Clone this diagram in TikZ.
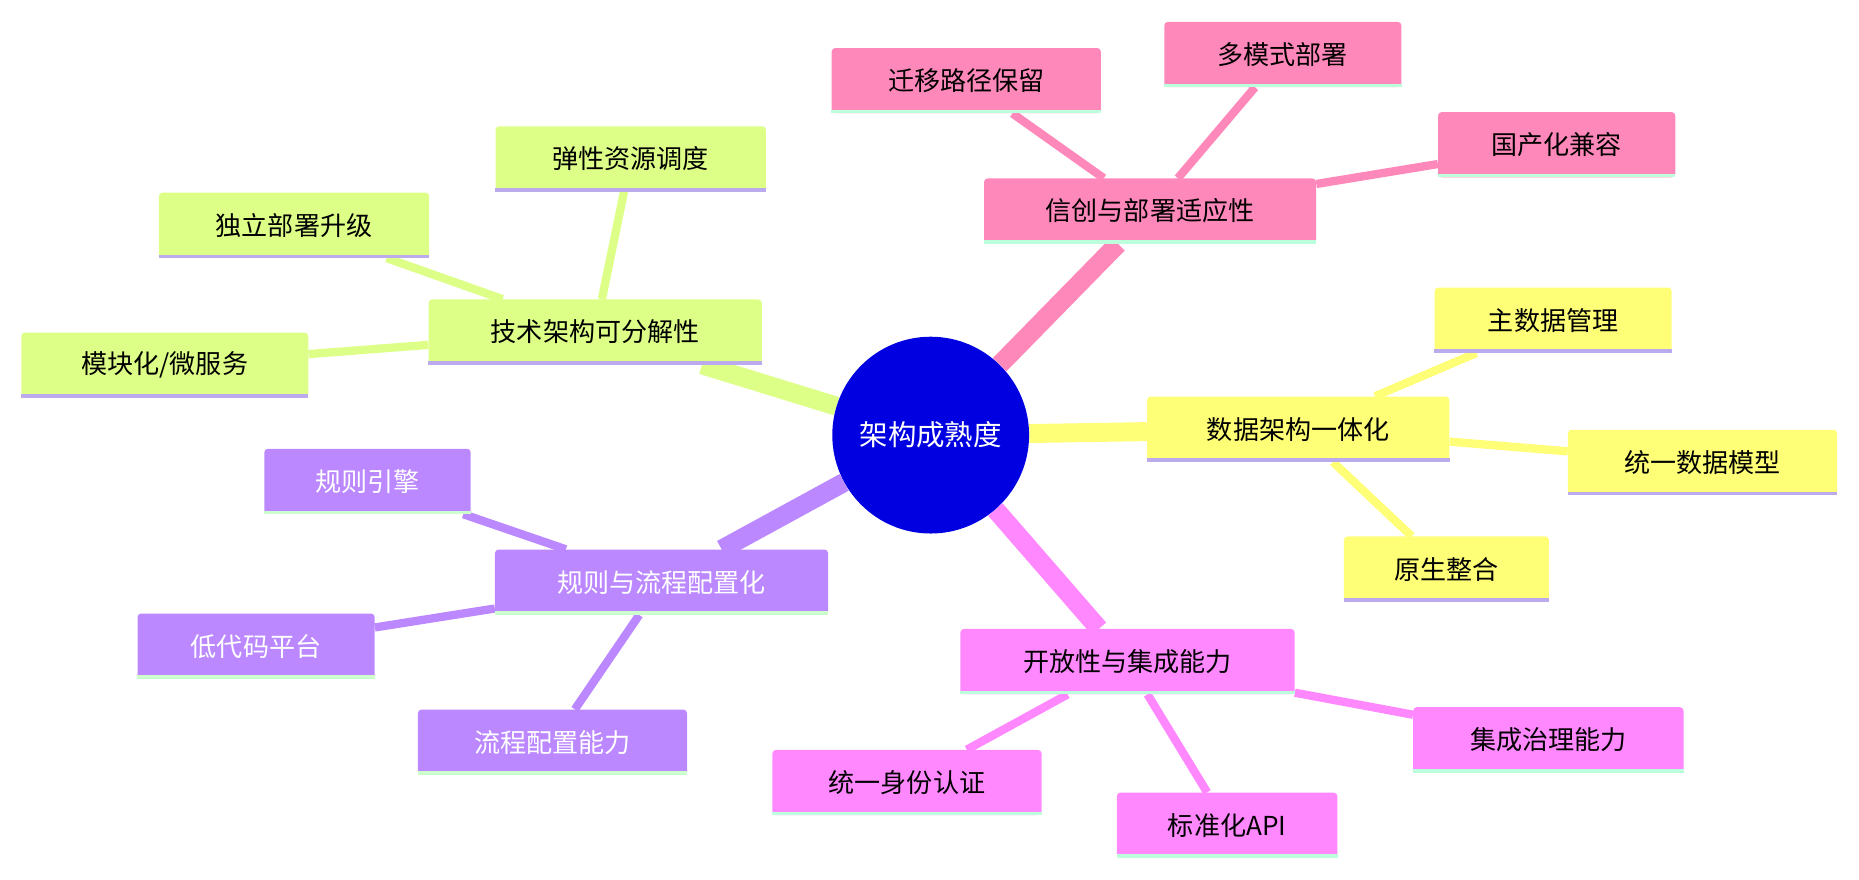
\documentclass[tikz,border=0pt]{standalone}
\usepackage{fontspec}
\newfontfamily\cjk{Noto Sans CJK SC}
\usetikzlibrary{backgrounds}
\definecolor{pk}{HTML}{FF88BB}
\definecolor{yl}{HTML}{FFFF77}
\definecolor{mg}{HTML}{FF88FF}
\definecolor{pu}{HTML}{BB88FF}
\definecolor{gr}{HTML}{DDFF88}
\definecolor{mint}{HTML}{BBFFDD}
\definecolor{lav}{HTML}{BBAAEE}
\definecolor{lgr}{HTML}{CCFFCC}
\definecolor{cb}{HTML}{0000E0}
\tikzset{
 bx/.style={rounded corners=3pt, minimum height=55pt, inner xsep=10pt, font=\cjk\fontsize{22}{26}\selectfont, text=black},
 main/.style={bx, minimum height=55pt},
 ln/.style={line width=16pt},
 cl/.style={line width=7pt},
}
\newcommand\stripe[2]{\draw[#2, line width=3pt] ([yshift=1.5pt]#1.south west) -- ([yshift=1.5pt]#1.south east);}
\begin{document}
\begin{tikzpicture}[x=1pt,y=-1pt]
\useasboundingbox (0,0) rectangle (1568,742);
\node[circle, fill=cb, minimum size=166pt, text=white, font=\cjk\fontsize{24}{28}\selectfont] (c) at (785,367) {架构成熟度};
% pink
\node[bx, fill=pk, minimum width=280pt] (p) at (970,178) {信创与部署适应性};
\node[bx, fill=pk, minimum width=227pt] (p1) at (815,68) {迁移路径保留};
\node[bx, fill=pk, minimum width=200pt] (p2) at (1082,46) {多模式部署};
\node[bx, fill=pk, minimum width=200pt] (p3) at (1313,122) {国产化兼容};
% yellow
\node[bx, fill=yl, minimum width=255pt] (y) at (1095,362) {数据架构一体化};
\node[bx, fill=yl, minimum width=200pt] (y1) at (1310,270) {主数据管理};
\node[bx, fill=yl, minimum width=227pt] (y2) at (1436,390) {统一数据模型};
\node[bx, fill=yl, minimum width=173pt] (y3) at (1220,480) {原生整合};
% magenta
\node[bx, fill=mg, minimum width=282pt] (m) at (951,558) {开放性与集成能力};
\node[bx, fill=mg, minimum width=227pt] (m1) at (765,660) {统一身份认证};
\node[bx, fill=mg, minimum width=186pt] (m2) at (1035,696) {标准化API};
\node[bx, fill=mg, minimum width=228pt] (m3) at (1306,624) {集成治理能力};
% purple
\node[bx, fill=pu, text=white, minimum width=281pt] (u) at (558,491) {规则与流程配置化};
\node[bx, fill=pu, text=white, minimum width=174pt] (u1) at (310,406) {规则引擎};
\node[bx, fill=pu, text=white, minimum width=200pt] (u2) at (216,545) {低代码平台};
\node[bx, fill=pu, text=white, minimum width=227pt] (u3) at (466,626) {流程配置能力};
% green
\node[bx, fill=gr, minimum width=281pt] (g) at (502,280) {技术架构可分解性};
\node[bx, fill=gr, minimum width=228pt] (g1) at (532,134) {弹性资源调度};
\node[bx, fill=gr, minimum width=228pt] (g2) at (248,190) {独立部署升级};
\node[bx, fill=gr, minimum width=242pt] (g3) at (139,308) {模块化/微服务};
\foreach \n in {p,p1,p2,p3,m,m1,m2,m3}{\stripe{\n}{mint}}
\foreach \n in {y,y1,y2,y3,g,g1,g2,g3}{\stripe{\n}{lav}}
\foreach \n in {u,u1,u2,u3}{\stripe{\n}{lgr}}
\begin{scope}[on background layer]
\draw[ln,pk] (c) -- (p); \draw[ln,yl] (c) -- (y); \draw[ln,mg] (c) -- (m);
\draw[ln,pu] (c) -- (u); \draw[ln,gr] (c) -- (g);
\foreach \a in {1,2,3}{
 \draw[cl,pk] (p) -- (p\a); \draw[cl,yl] (y) -- (y\a); \draw[cl,mg] (m) -- (m\a);
 \draw[cl,pu] (u) -- (u\a); \draw[cl,gr] (g) -- (g\a);}
\end{scope}
\end{tikzpicture}
\end{document}
